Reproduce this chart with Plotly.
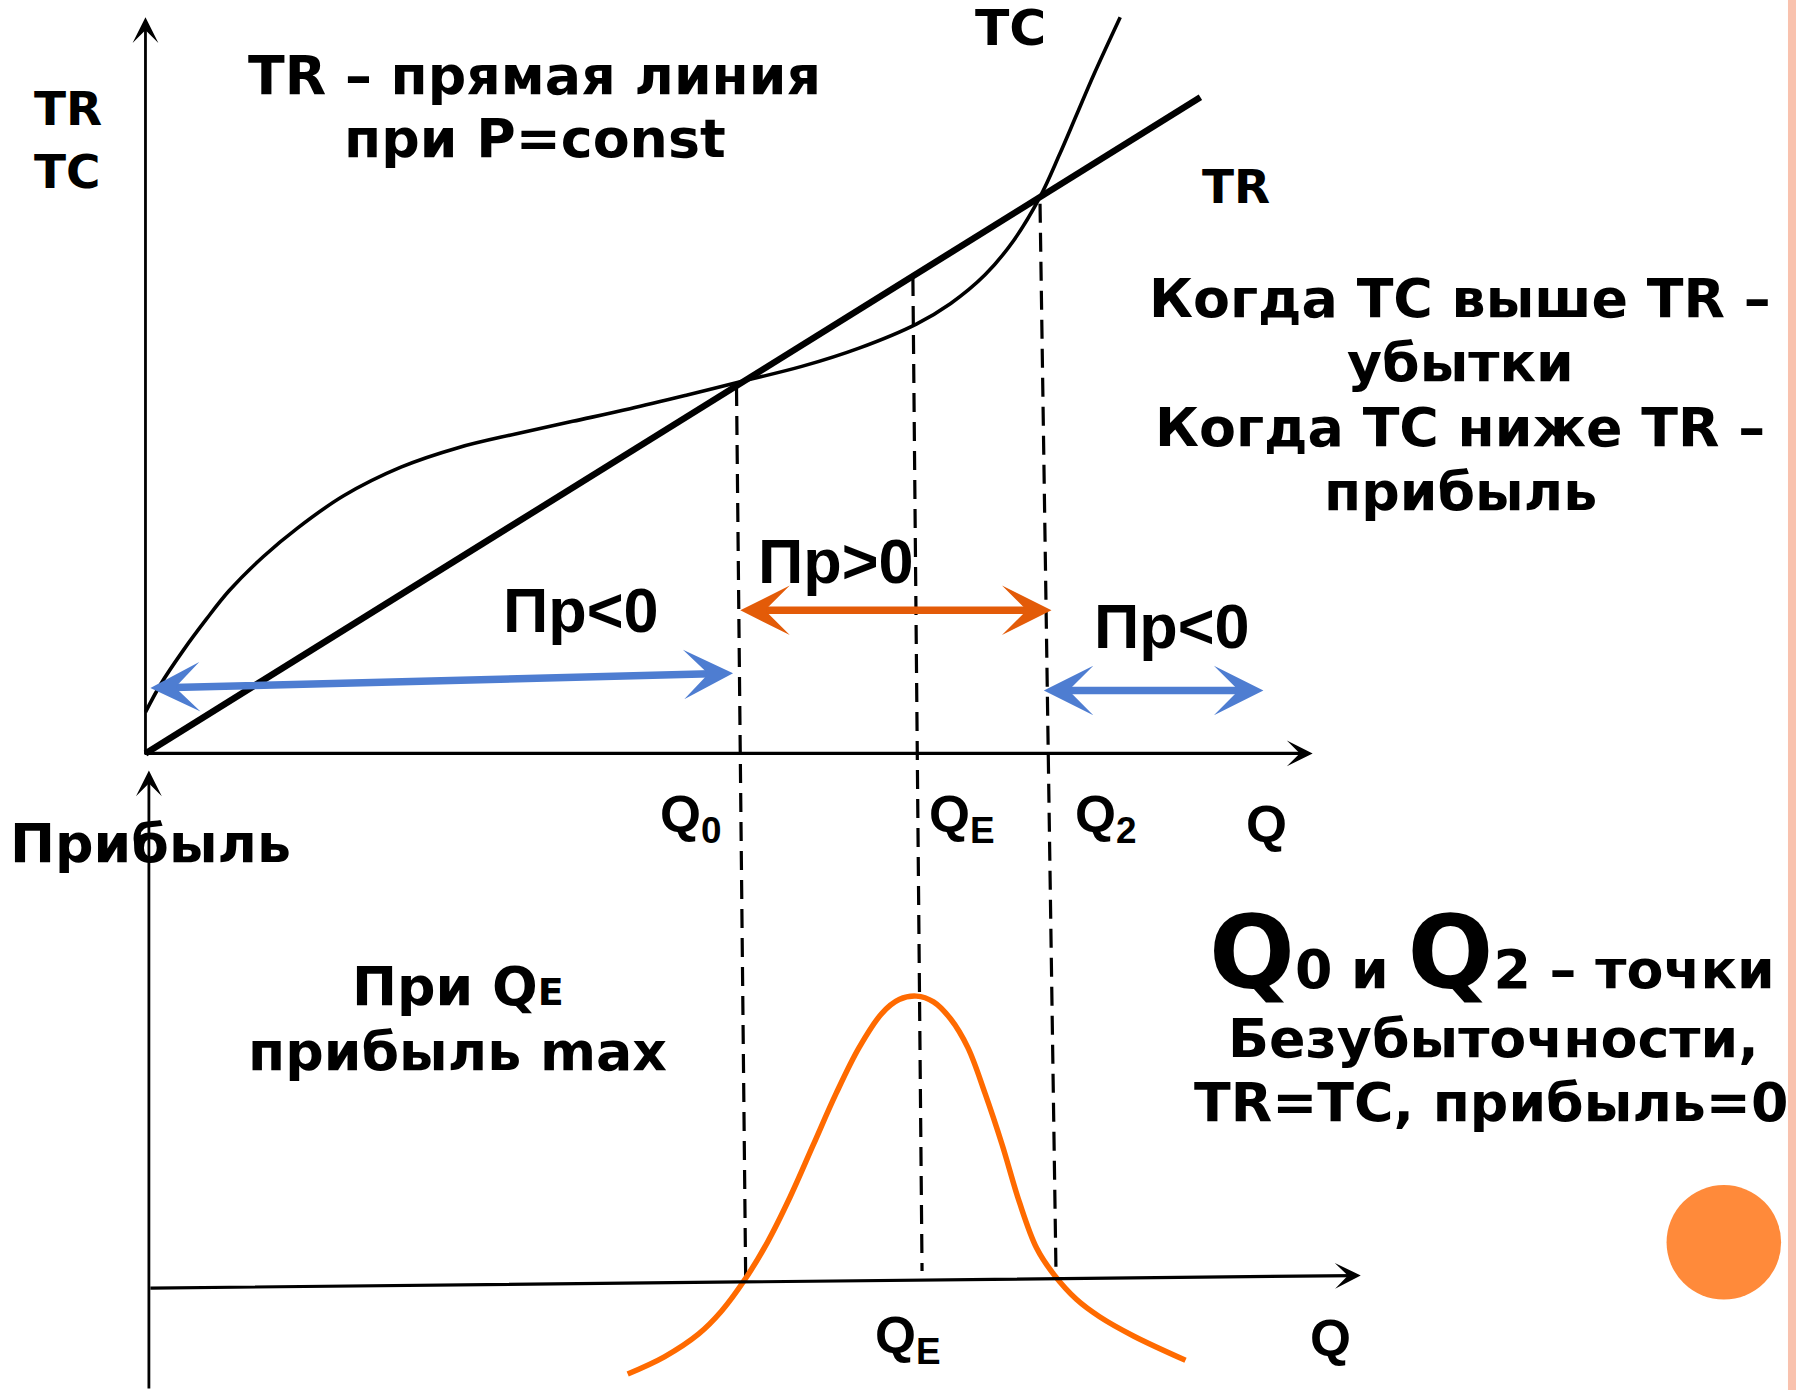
import plotly.graph_objects as go

# ---------------- data (diagram units = reference pixel grid 1568 x 1214) ----------------
# Top panel: total revenue (straight line) and total cost (cubic-like curve)
q_tr = [127, 1048]
tr = [658, 85]

q_tc = [127, 140, 160, 180, 200, 230, 260, 300, 350, 400, 450, 500, 550, 600, 648,
        700, 750, 800, 830, 860, 885, 908, 925, 940, 955, 978]
tc = [622, 598, 568, 541, 516, 486, 461, 433, 408, 391, 379, 368, 357, 345, 333,
      320, 304, 283, 265, 240, 210, 172, 135, 100, 65, 15]

# Bottom panel: profit curve
q_pr = [548, 580, 610, 630, 650, 670, 690, 710, 730, 750, 770, 785, 800, 815, 830,
        845, 860, 875, 890, 905, 920, 940, 960, 990, 1035]
profit = [1200, 1185, 1165, 1145, 1118, 1085, 1045, 1000, 955, 915, 885, 873, 870, 875, 890,
          915, 955, 1000, 1050, 1090, 1113, 1135, 1150, 1167, 1188]

# Dashed guide lines (Q0, QE, Q2): top point, bottom point
guide_x_top = [643, 797, 908]
guide_y_top = [338, 242, 178]
guide_x_bot = [651, 805, 922]
guide_y_bot = [1115, 1110, 1115]

# Double-headed region arrows: (x0, y0, x1, y1)
region_x0 = [130, 645, 910]
region_y0 = [601, 533, 603]
region_x1 = [640, 918, 1103]
region_y1 = [588, 533, 603]
region_colors = ["#4e7dd1", "#e35b08", "#4e7dd1"]

W, H = 1796, 1390
SX = W / 1568.0          # reference grid -> canvas pixels

VERD = "DejaVu Sans"
ARIAL = "Liberation Sans"

fig = go.Figure()

# guide dashed lines
for xt, yt, xb, yb in zip(guide_x_top, guide_y_top, guide_x_bot, guide_y_bot):
    fig.add_trace(go.Scatter(x=[xt, xb], y=[yt, yb], mode="lines",
                             line=dict(color="black", width=3.2, dash="19px,10px"),
                             hoverinfo="skip", showlegend=False))

# TR line
fig.add_trace(go.Scatter(x=q_tr, y=tr, mode="lines",
                         line=dict(color="black", width=6.5), showlegend=False))
# TC curve
fig.add_trace(go.Scatter(x=q_tc, y=tc, mode="lines", line_shape="spline",
                         line=dict(color="black", width=3.6), showlegend=False))
# Profit curve
fig.add_trace(go.Scatter(x=q_pr, y=profit, mode="lines", line_shape="spline",
                         line=dict(color="#ff6a00", width=5.5), showlegend=False))

ann = []
# axes as arrows
axes_lines = [
    (127, 660, 127, 15, 2.8),
    (125, 658, 1146, 658, 3.4),
    (130, 1214, 130, 673, 2.8),
    (130, 1125, 1188, 1114, 3.2),
]
for x0, y0, x1, y1, w in axes_lines:
    ann.append(dict(x=x1, y=y1, ax=x0, ay=y0, xref="x", yref="y", axref="x", ayref="y",
                    text="", showarrow=True, arrowhead=3, arrowsize=4.3 / w,
                    arrowwidth=w, arrowcolor="black"))

# region arrows
for x0, y0, x1, y1, c in zip(region_x0, region_y0, region_x1, region_y1, region_colors):
    ann.append(dict(x=x1, y=y1, ax=x0, ay=y0, xref="x", yref="y", axref="x", ayref="y",
                    text="", showarrow=True, arrowhead=3, startarrowhead=3,
                    arrowside="end+start", arrowsize=1.1, startarrowsize=1.1,
                    arrowwidth=7.5, arrowcolor=c))


def txt(x, y, s, size, font=VERD, xanchor="center"):
    ann.append(dict(x=x, y=y, xref="x", yref="y", text="<b>" + s + "</b>", showarrow=False,
                    xanchor=xanchor, yanchor="middle", align="center",
                    font=dict(family=font, size=size * SX, color="black")))


V = 47  # main text size (grid px)
txt(59, 95, "TR", 41)
txt(59, 150, "TC", 41)
txt(467, 66, "TR – прямая линия", V)
txt(467, 121, "при P=const", V)
txt(882, 24, "TC", 44)
txt(1079, 163, "TR", 41)
txt(1275, 261, "Когда TC выше TR –", V)
txt(1275, 317, "убытки", V)
txt(1275, 373, "Когда TC ниже TR –", V)
txt(1275, 429, "прибыль", V)
txt(730, 490, "Пр&gt;0", 55, ARIAL)
txt(507, 533, "Пр&lt;0", 55, ARIAL)
txt(1023, 547, "Пр&lt;0", 55, ARIAL)
txt(603, 714, "Q<sub>0</sub>", 46, ARIAL)
txt(840, 714, "Q<sub>E</sub>", 46, ARIAL)
txt(966, 714, "Q<sub>2</sub>", 46, ARIAL)
txt(1106, 719, "Q", 46, ARIAL)
txt(793, 1169, "Q<sub>E</sub>", 46, ARIAL)
txt(1162, 1168, "Q", 46, ARIAL)
txt(7, 737, "Прибыль", V, xanchor="left")
big = "<span style='font-size:%dpx'>Q</span>" % round(88 * SX)
sm = "<span style='font-size:%dpx'>E</span>" % round(33 * SX)
txt(400, 862, "При Q" + sm, V)
txt(399, 918, "прибыль max", V)
txt(1303, 832, big + "0 и " + big + "2 – точки", V)
txt(1304, 907, "Безубыточности,", V)
txt(1302, 963, "TR=TC, прибыль=0", V)

shapes = [
    dict(type="rect", xref="x", yref="y", x0=1561, x1=1575, y0=-5, y1=1220,
         fillcolor="#f9c2ae", line=dict(width=0), layer="below"),
    dict(type="circle", xref="x", yref="y", x0=1455, x1=1555, y0=1035, y1=1135,
         fillcolor="#ff8a3a", line=dict(width=0)),
]

fig.update_layout(
    width=W, height=H,
    margin=dict(l=0, r=0, t=0, b=0),
    paper_bgcolor="white", plot_bgcolor="white",
    xaxis=dict(range=[0, 1568], visible=False, fixedrange=True),
    yaxis=dict(range=[1214, 0], visible=False, fixedrange=True),
    annotations=ann, shapes=shapes, showlegend=False,
)

fig.write_html("out.html",
               config={"displayModeBar": False, "staticPlot": True},
               post_script="document.body.style.margin='0';"
                           "document.body.style.overflow='hidden';")
